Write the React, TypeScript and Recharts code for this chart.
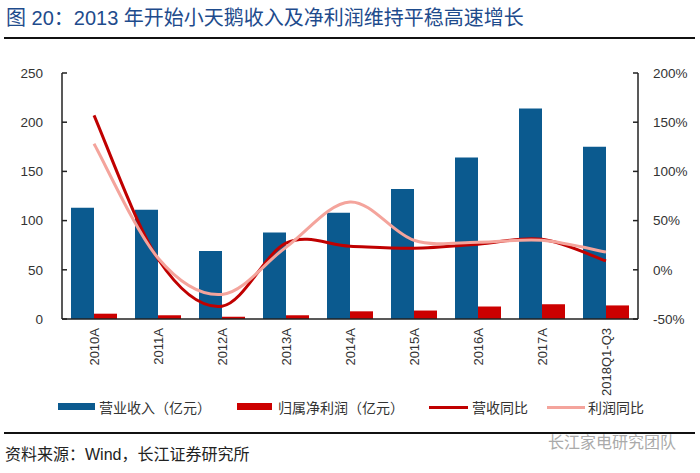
import React from 'react';
import { ComposedChart, Bar, Line, XAxis, YAxis } from 'recharts';

const categories = ['2010A', '2011A', '2012A', '2013A', '2014A', '2015A', '2016A', '2017A', '2018Q1-Q3'];
const revenue = [113, 111, 69, 88, 108, 132, 164, 214, 175];
const profit = [5.4, 3.8, 2.3, 3.8, 7.8, 8.6, 12.7, 15, 13.8];
const revenueYoY = [157, 11, -37, 27, 24, 22, 26, 31, 9];
const profitYoY = [128, 12, -25, 23, 69, 30, 28, 30, 18];
const leftTicks = [0, 50, 100, 150, 200, 250];
const rightTicks = [-50, 0, 50, 100, 150, 200];

const data = categories.map((c, i) => ({
  name: c,
  revenue: revenue[i],
  profit: profit[i],
  revenueYoY: revenueYoY[i],
  profitYoY: profitYoY[i],
}));

// Excel-like smooth curve (uniform Catmull-Rom through the points)
const smoothCurve = (context: any) => {
  let pts: number[][] = [];
  return {
    areaStart() {},
    areaEnd() {},
    lineStart() {
      pts = [];
    },
    point(x: number, y: number) {
      pts.push([+x, +y]);
    },
    lineEnd() {
      if (!pts.length) return;
      context.moveTo(pts[0][0], pts[0][1]);
      for (let i = 0; i < pts.length - 1; i++) {
        const p0 = pts[i - 1] || pts[i];
        const p1 = pts[i];
        const p2 = pts[i + 1];
        const p3 = pts[i + 2] || pts[i + 1];
        context.bezierCurveTo(
          p1[0] + (p2[0] - p0[0]) / 6,
          p1[1] + (p2[1] - p0[1]) / 6,
          p2[0] - (p3[0] - p1[0]) / 6,
          p2[1] - (p3[1] - p1[1]) / 6,
          p2[0],
          p2[1]
        );
      }
    },
  };
};

const FONT = '"Liberation Sans", Arial, "Noto Sans CJK SC", sans-serif';
const CJK = '"Liberation Sans", "Noto Sans CJK SC", sans-serif';

const XTick = (props: any) => {
  const { x, y, payload } = props;
  const ty = y + 1;
  return (
    <text
      x={x}
      y={ty}
      transform={`rotate(-90, ${x}, ${ty})`}
      textAnchor="end"
      dominantBaseline="central"
      fontSize={13}
      fontFamily={FONT}
      fill="#333"
    >
      {payload.value}
    </text>
  );
};

const legendItems = [
  { kind: 'rect', color: '#0B5A8F', x: 58, w: 37, tx: 99, label: '营业收入（亿元）' },
  { kind: 'rect', color: '#CC0000', x: 237, w: 35, tx: 278, label: '归属净利润（亿元）' },
  { kind: 'line', color: '#C00000', x: 429, w: 39, tx: 472, label: '营收同比' },
  { kind: 'line', color: '#F4A49C', x: 547, w: 38, tx: 588, label: '利润同比' },
];

export default function App() {
  return (
    <div
      style={{
        position: 'absolute',
        left: 0,
        top: 0,
        width: 700,
        height: 473,
        background: '#fff',
        overflow: 'hidden',
      }}
    >
      <div
        style={{
          position: 'absolute',
          left: 6,
          top: 4,
          fontSize: 20,
          lineHeight: '28px',
          color: '#1E4B8C',
          fontFamily: CJK,
          whiteSpace: 'nowrap',
        }}
      >
        图 20：2013 年开始小天鹅收入及净利润维持平稳高速增长
      </div>
      <div style={{ position: 'absolute', left: 4, top: 37, width: 691, height: 2, background: '#111' }} />

      <div style={{ position: 'absolute', left: 0, top: 0 }}>
        <ComposedChart
          width={700}
          height={473}
          data={data}
          margin={{ top: 73, right: 0, left: 0, bottom: 94 }}
          barGap={0}
        >
          <XAxis
            dataKey="name"
            xAxisId="x"
            height={60}
            tickLine={false}
            axisLine={{ stroke: '#222', strokeWidth: 1.5 }}
            tick={<XTick />}
            interval={0}
          />
          <YAxis
            yAxisId="left"
            orientation="left"
            width={62}
            domain={[0, 250]}
            ticks={leftTicks}
            interval={0}
            tickSize={-5}
            tickMargin={24}
            axisLine={{ stroke: '#222', strokeWidth: 1.5 }}
            tickLine={{ stroke: '#222', strokeWidth: 1.5 }}
            tick={{ fontSize: 13.5, fill: '#333', fontFamily: FONT }}
          />
          <YAxis
            yAxisId="right"
            orientation="right"
            width={62}
            domain={[-50, 200]}
            ticks={rightTicks}
            interval={0}
            tickSize={-5}
            tickMargin={20}
            tickFormatter={(v: number) => `${v}%`}
            axisLine={{ stroke: '#222', strokeWidth: 1.5 }}
            tickLine={{ stroke: '#222', strokeWidth: 1.5 }}
            tick={{ fontSize: 13.5, fill: '#333', fontFamily: FONT }}
          />
          <Bar dataKey="revenue" xAxisId="x" yAxisId="left" fill="#0B5A8F" barSize={23} isAnimationActive={false} />
          <Bar dataKey="profit" xAxisId="x" yAxisId="left" fill="#CC0000" barSize={23} isAnimationActive={false} />
          <Line
            dataKey="revenueYoY"
            xAxisId="x"
            yAxisId="right"
            type={smoothCurve as any}
            stroke="#C00000"
            strokeWidth={3}
            dot={false}
            activeDot={false}
            isAnimationActive={false}
          />
          <Line
            dataKey="profitYoY"
            xAxisId="x"
            yAxisId="right"
            type={smoothCurve as any}
            stroke="#F4A49C"
            strokeWidth={3}
            dot={false}
            activeDot={false}
            isAnimationActive={false}
          />
        </ComposedChart>
      </div>

      {legendItems.map((it) => (
        <React.Fragment key={it.label}>
          <div
            style={{
              position: 'absolute',
              left: it.x,
              top: it.kind === 'rect' ? 403 : 406,
              width: it.w,
              height: it.kind === 'rect' ? 7 : 3,
              background: it.color,
            }}
          />
          <div
            style={{
              position: 'absolute',
              left: it.tx,
              top: 398,
              fontSize: 14,
              lineHeight: '20px',
              color: '#333',
              fontFamily: CJK,
              whiteSpace: 'nowrap',
            }}
          >
            {it.label}
          </div>
        </React.Fragment>
      ))}

      <div style={{ position: 'absolute', left: 4, top: 432, width: 691, height: 2, background: '#111' }} />
      <div
        style={{
          position: 'absolute',
          left: 5,
          top: 443,
          fontSize: 16,
          lineHeight: '24px',
          color: '#222',
          fontFamily: CJK,
          whiteSpace: 'nowrap',
        }}
      >
        资料来源：Wind，长江证券研究所
      </div>
      <div
        style={{
          position: 'absolute',
          left: 548,
          top: 432,
          fontSize: 16,
          lineHeight: '22px',
          color: '#aaa',
          fontFamily: CJK,
          whiteSpace: 'nowrap',
        }}
      >
        长江家电研究团队
      </div>
    </div>
  );
}
